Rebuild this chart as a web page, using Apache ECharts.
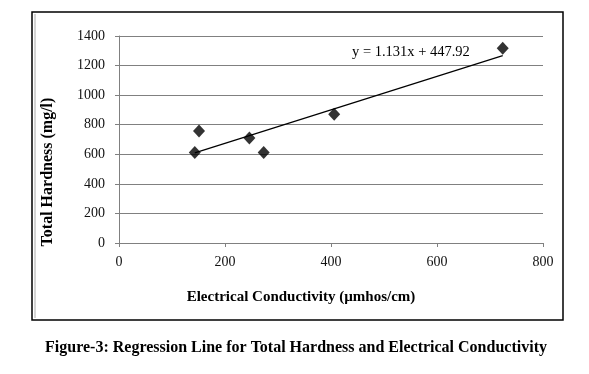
<!DOCTYPE html>
<html>
<head>
<meta charset="utf-8">
<script src="https://cdn.jsdelivr.net/npm/echarts@6/dist/echarts.min.js"></script>
<style>
html,body{margin:0;padding:0;background:#fff;}
#chart{width:589px;height:374px;}
</style>
</head>
<body>
<div id="chart"></div>
<script>
// Data
const conductivity = [143, 151, 246, 273, 406, 724];
const hardness     = [612, 758, 710, 612, 871, 1317];
// Regression line end points (as drawn in the reference)
const trendX = [143, 724];
const trendY = [610, 1267];
const equationText = 'y = 1.131x + 447.92';
const xTitle = 'Electrical Conductivity (µmhos/cm)';
const yTitle = 'Total Hardness (mg/l)';
const caption = 'Figure-3: Regression Line for Total Hardness and Electrical Conductivity';

const points = conductivity.map((x, i) => [x, hardness[i]]);
const trend = trendX.map((x, i) => [x, trendY[i]]);

const serif = '"Liberation Serif", "Times New Roman", serif';
const chart = echarts.init(document.getElementById('chart'), null, {renderer: 'canvas'});
chart.setOption({
  backgroundColor: '#fff',
  animation: false,
  grid: {left: 119, right: 46, top: 36, bottom: 131, containLabel: false},
  xAxis: {
    type: 'value', min: 0, max: 800, interval: 200,
    axisLine: {show: true, lineStyle: {color: '#808080', width: 1}},
    axisTick: {show: true, length: 4, lineStyle: {color: '#808080'}},
    axisLabel: {color: '#111', fontFamily: serif, fontSize: 14, margin: 12, formatter: v => String(v)},
    splitLine: {show: false}
  },
  yAxis: {
    type: 'value', min: 0, max: 1400, interval: 200,
    axisLine: {show: true, lineStyle: {color: '#808080', width: 1}},
    axisTick: {show: true, length: 4, lineStyle: {color: '#808080'}},
    axisLabel: {color: '#111', fontFamily: serif, fontSize: 14, margin: 14, formatter: v => String(v)},
    splitLine: {show: true, lineStyle: {color: '#808080', width: 1}}
  },
  series: [
    {
      type: 'line', data: trend, showSymbol: false, symbol: 'none',
      lineStyle: {color: '#000', width: 1.2}, z: 2
    },
    {
      type: 'scatter', data: points, symbol: 'diamond', symbolSize: [12, 13],
      itemStyle: {color: '#000'}, z: 3
    }
  ],
  graphic: [
    {type: 'rect', shape: {x: 32, y: 12, width: 531, height: 308},
     style: {fill: 'none', stroke: '#000', lineWidth: 1.5}, silent: true},
    {type: 'line', shape: {x1: 35, y1: 14, x2: 35, y2: 318},
     style: {stroke: '#aaa', lineWidth: 1}, silent: true},
    {type: 'text', left: 352, top: 45,
     style: {text: equationText, font: '14.5px ' + serif, fill: '#000'}},
    {type: 'text', x: 48, y: 172, rotation: Math.PI / 2,
     style: {text: yTitle, font: 'bold 16px ' + serif, fill: '#000', align: 'center', verticalAlign: 'middle'}},
    {type: 'text', x: 301, y: 297,
     style: {text: xTitle, font: 'bold 15px ' + serif, fill: '#000', align: 'center', verticalAlign: 'middle'}},
    {type: 'text', x: 296, y: 348,
     style: {text: caption, font: 'bold 16px ' + serif, fill: '#000', align: 'center', verticalAlign: 'middle'}}
  ]
});
</script>
</body>
</html>
